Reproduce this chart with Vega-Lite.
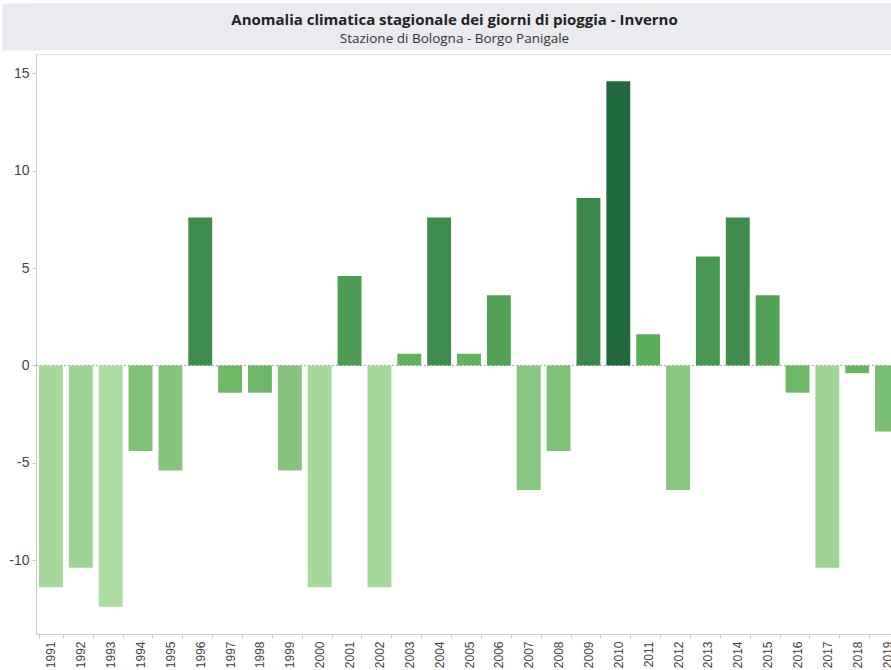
{
  "$schema": "https://vega.github.io/schema/vega-lite/v6.json",
  "padding": {"left": 3, "top": 3, "right": 0, "bottom": 0},
  "background": "white",
  "spacing": 3,
  "vconcat": [
    {
      "width": 867,
      "height": 47,
      "view": {"stroke": null},
      "data": {"values": [{"k": "banda"}]},
      "mark": {"type": "rect", "color": "#e9ebee"},
      "encoding": {
        "y": {
          "field": "k",
          "type": "nominal",
          "scale": {"paddingInner": 0, "paddingOuter": 0},
          "axis": {
            "title": null,
            "labels": false,
            "ticks": false,
            "domainColor": "#e9ebee",
            "domainWidth": 34,
            "offset": 17,
            "minExtent": 0,
            "maxExtent": 0
          }
        }
      },
      "title": {
        "text": "Anomalia climatica stagionale dei giorni di pioggia  - Inverno",
        "subtitle": "Stazione di Bologna - Borgo Panigale",
        "orient": "top",
        "anchor": "middle",
        "offset": -42,
        "dx": -15,
        "font": "Open Sans",
        "fontSize": 15,
        "fontWeight": "bold",
        "color": "#222222",
        "subtitleFont": "Open Sans",
        "subtitleFontSize": 13.5,
        "subtitleColor": "#333333",
        "subtitlePadding": 4
      }
    },
    {
      "width": 866,
      "height": 580,
      "view": {"stroke": "#e3e3e3"},
      "data": {
        "values": [
          {"anno": "1991", "anomalia": -11.4},
          {"anno": "1992", "anomalia": -10.4},
          {"anno": "1993", "anomalia": -12.4},
          {"anno": "1994", "anomalia": -4.4},
          {"anno": "1995", "anomalia": -5.4},
          {"anno": "1996", "anomalia": 7.6},
          {"anno": "1997", "anomalia": -1.4},
          {"anno": "1998", "anomalia": -1.4},
          {"anno": "1999", "anomalia": -5.4},
          {"anno": "2000", "anomalia": -11.4},
          {"anno": "2001", "anomalia": 4.6},
          {"anno": "2002", "anomalia": -11.4},
          {"anno": "2003", "anomalia": 0.6},
          {"anno": "2004", "anomalia": 7.6},
          {"anno": "2005", "anomalia": 0.6},
          {"anno": "2006", "anomalia": 3.6},
          {"anno": "2007", "anomalia": -6.4},
          {"anno": "2008", "anomalia": -4.4},
          {"anno": "2009", "anomalia": 8.6},
          {"anno": "2010", "anomalia": 14.6},
          {"anno": "2011", "anomalia": 1.6},
          {"anno": "2012", "anomalia": -6.4},
          {"anno": "2013", "anomalia": 5.6},
          {"anno": "2014", "anomalia": 7.6},
          {"anno": "2015", "anomalia": 3.6},
          {"anno": "2016", "anomalia": -1.4},
          {"anno": "2017", "anomalia": -10.4},
          {"anno": "2018", "anomalia": -0.4},
          {"anno": "2019", "anomalia": -3.4}
        ]
      },
      "layer": [
        {
          "data": {"values": [{"zero": 0}]},
          "mark": {"type": "rule", "strokeDash": [2, 2], "color": "#aaaaaa", "strokeWidth": 1},
          "encoding": {"y": {"field": "zero", "type": "quantitative"}}
        },
        {
          "mark": {"type": "bar"},
          "encoding": {
            "x": {
              "field": "anno",
              "type": "ordinal",
              "scale": {"paddingInner": 0.2, "paddingOuter": 0.1},
              "axis": {
                "title": null,
                "labelAngle": -90,
                "labelAlign": "right",
                "labelBaseline": "middle",
                "tickBand": "extent",
                "grid": false,
                "domainColor": "#cccccc",
                "tickColor": "#cccccc",
                "tickSize": 4,
                "labelPadding": 3,
                "labelFont": "Liberation Sans",
                "labelFontSize": 12,
                "labelColor": "#444444"
              }
            },
            "y": {
              "field": "anomalia",
              "type": "quantitative",
              "scale": {"domain": [-13.8, 16], "nice": false, "zero": false},
              "axis": {
                "title": null,
                "values": [-10, -5, 0, 5, 10, 15],
                "labelExpr": "datum.value < 0 ? '-' + format(-datum.value, 'd') : format(datum.value, 'd')",
                "grid": false,
                "domainColor": "#cccccc",
                "tickColor": "#cccccc",
                "tickSize": 4,
                "labelPadding": 3,
                "labelFont": "Liberation Sans",
                "labelFontSize": 14,
                "labelColor": "#444444",
                "minExtent": 32,
                "maxExtent": 32
              }
            },
            "color": {
              "field": "anomalia",
              "type": "quantitative",
              "scale": {"domain": [-12.4, 1, 14.6], "range": ["#aadc9f", "#5fb05a", "#1f693c"]},
              "legend": null
            }
          }
        }
      ]
    }
  ]
}
